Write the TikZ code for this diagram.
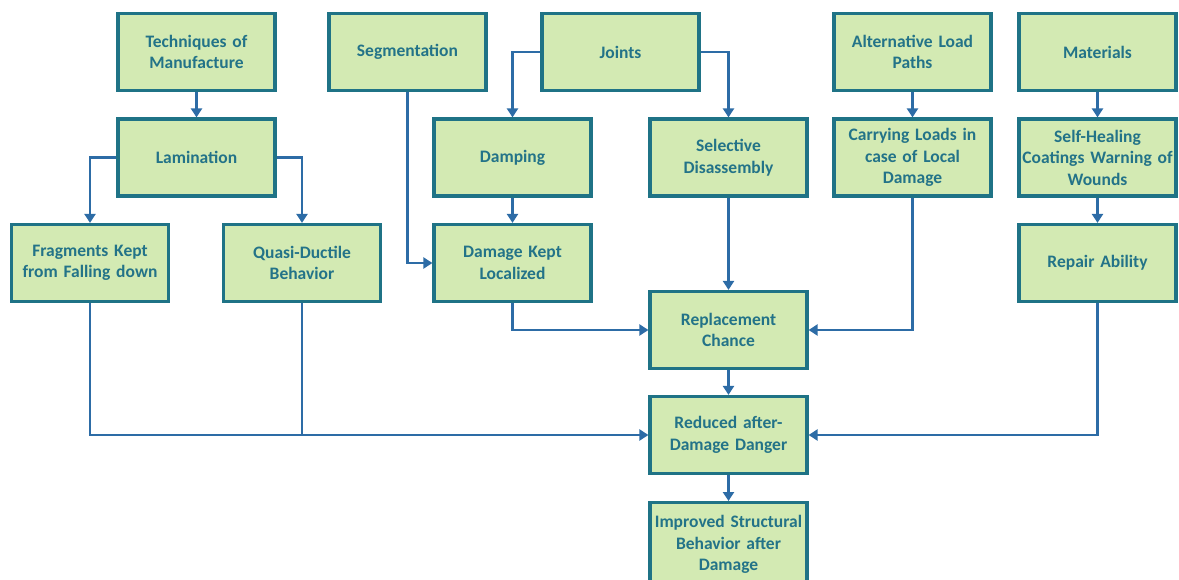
\documentclass[tikz,border=0pt]{standalone}
\usepackage{fontspec}
\setmainfont{Carlito}
\usetikzlibrary{arrows.meta}
\definecolor{boxfill}{HTML}{D3EAB3}
\definecolor{boxline}{HTML}{1F7386}
\definecolor{boxtext}{HTML}{237388}
\definecolor{linkcol}{HTML}{2D6CA6}
\begin{document}
\begin{tikzpicture}[x=1pt,y=-1pt,
  blk/.style={draw=boxline,line width=3.2pt,fill=boxfill,minimum width=157pt,minimum height=77pt,
    text width=157pt,align=center,font=\bfseries\fontsize{17.5}{21.5}\selectfont,text=boxtext,inner sep=0pt},
  link/.style={draw=linkcol,line width=2.8pt,-{Triangle[width=11pt,length=9pt]}},
  seg/.style={draw=linkcol,line width=2.8pt}]
\useasboundingbox (0,0) rectangle (1179,579);
% top row
\node[blk] (tech) at (196.5,52) {Techniques of\\Manufacture};
\node[blk] (segm) at (407.5,52) {Segmentation};
\node[blk] (join) at (620.5,52) {Joints};
\node[blk] (alt)  at (912.5,52) {Alternative Load\\Paths};
\node[blk] (mat)  at (1097.5,52) {Materials};
% second row
\node[blk] (lam)  at (196.5,157.5) {Lamination};
\node[blk] (damp) at (512.5,157.5) {Damping};
\node[blk] (sel)  at (728.5,157.5) {Selective\\Disassembly};
\node[blk] (carr) at (912.5,157.5) {Carrying Loads in\\case of Local\\Damage};
\node[blk] (heal) at (1097.5,157.5) {Self-Healing\\Coatings Warning of\\Wounds};
% third row
\node[blk] (frag) at (90,263) {Fragments Kept\\from Falling down};
\node[blk] (quas) at (302,263) {Quasi-Ductile\\Behavior};
\node[blk] (dkl)  at (512.5,263) {Damage Kept\\Localized};
\node[blk] (rep)  at (1097.5,263) {Repair Ability};
% central column
\node[blk] (repl) at (728.5,330) {Replacement\\Chance};
\node[blk] (red)  at (728.5,435) {Reduced after-\\Damage Danger};
\node[blk,anchor=north,minimum height=84pt] (imp) at (728.5,501) {Improved Structural\\Behavior after\\Damage};
% connectors
\draw[link] (tech) -- (lam);
\draw[link] (lam.west) -| (frag.north);
\draw[link] (lam.east) -| (quas.north);
\draw[link] (segm.south) |- (dkl.west);
\draw[link] (join.west) -| (damp.north);
\draw[link] (join.east) -| (sel.north);
\draw[link] (damp) -- (dkl);
\draw[link] (dkl.south) |- (repl.west);
\draw[link] (sel) -- (repl);
\draw[link] (alt) -- (carr);
\draw[link] (carr.south) |- (repl.east);
\draw[link] (mat) -- (heal);
\draw[link] (heal) -- (rep);
\draw[link] (repl) -- (red);
\draw[link] (frag.south) |- (red.west);
\draw[seg] (quas.south) -- (quas.south |- red.west);
\draw[link] (rep.south) |- (red.east);
\draw[link] (red) -- (imp);
\end{tikzpicture}
\end{document}
